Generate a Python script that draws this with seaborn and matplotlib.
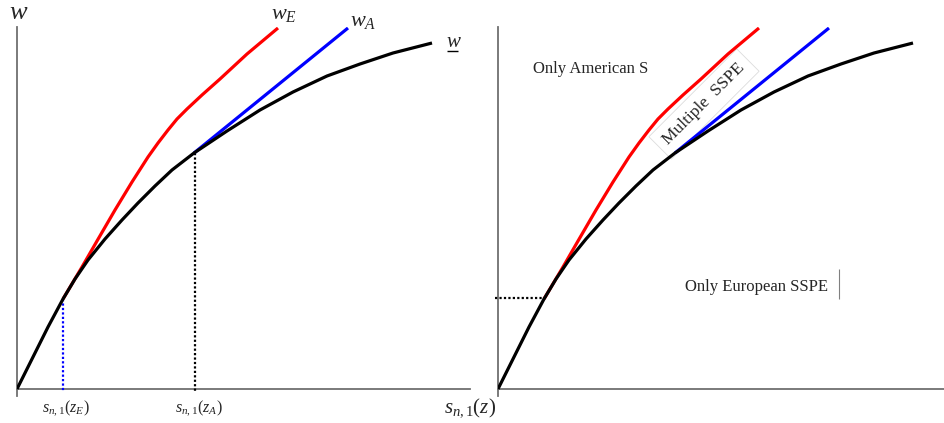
import numpy as np
import matplotlib
matplotlib.use("Agg")
import matplotlib.pyplot as plt
import seaborn as sns
from matplotlib.lines import Line2D

# ---- data (units = distance from the origin) ----
black_x = [0, 11, 21, 31, 46, 58, 71, 88, 105, 121, 138, 155, 177, 210, 243, 276, 310, 343, 376, 415]
black_y = [0, 22, 42, 62, 90, 110, 129, 150, 169, 186, 203, 219, 236, 258, 279, 297, 313, 325, 336, 346]
red_x = [46, 65, 80, 98, 115, 131, 141, 151, 160, 170, 185, 203, 230, 261]
red_y = [90, 122, 148, 179, 207, 232, 246, 259, 270, 280, 294, 310, 335, 361]
blue_x = [177, 331]
blue_y = [236, 361]
z_E = 46     # tangency of w_E
z_A = 177    # tangency of w_A
w_E_level = 90

sns.set_style("white")
plt.rcParams["font.family"] = ["Liberation Serif", "DejaVu Serif"]
plt.rcParams["mathtext.fontset"] = "custom"
plt.rcParams["mathtext.rm"] = "Liberation Serif"
plt.rcParams["mathtext.it"] = "Liberation Serif:italic"
plt.rcParams["mathtext.bf"] = "Liberation Serif:bold"
plt.rcParams["lines.solid_capstyle"] = "butt"
plt.rcParams["lines.solid_joinstyle"] = "round"

W, H = 945, 423
fig = plt.figure(figsize=(W / 100, H / 100), dpi=100)


def fx(px):
    return px / W


def fy(py):
    return 1 - py / H


def make_axes(ox, oy, right, top):
    ax = fig.add_axes([fx(ox), fy(oy + 7), (right - ox) / W, (oy + 7 - top) / H])
    ax.set_xlim(0, right - ox)
    ax.set_ylim(-7, oy - top)
    for s in ["top", "right"]:
        ax.spines[s].set_visible(False)
    ax.spines["bottom"].set_position(("data", 0))
    for s in ["left", "bottom"]:
        ax.spines[s].set_color("#707070")
        ax.spines[s].set_linewidth(1.3)
    ax.set_xticks([])
    ax.set_yticks([])
    ax.set_facecolor("none")
    return ax


lw = 2.3
axL = make_axes(17, 389, 470, 27)
axR = make_axes(498, 389, 945, 27)

for ax in (axL, axR):
    sns.lineplot(x=red_x, y=red_y, ax=ax, color="#ff0000", lw=lw, sort=False,
                 estimator=None, zorder=4)
    sns.lineplot(x=blue_x, y=blue_y, ax=ax, color="#0000ff", lw=lw, sort=False,
                 estimator=None, zorder=4)
    sns.lineplot(x=black_x, y=black_y, ax=ax, color="black", lw=lw, sort=False,
                 estimator=None, zorder=5)

# dotted guides, left panel
axL.plot([z_E, z_E], [w_E_level, -3], color="#0000ff", lw=1.6, ls=(0, (1, 1)),
         clip_on=False, zorder=3)
axL.plot([z_A + 1, z_A + 1], [blue_y[0], -3], color="black", lw=1.6, ls=(0, (1, 1)),
         clip_on=False, zorder=3)
# dotted guide, right panel
axR.plot([-3, z_E + 1], [w_E_level + 1, w_E_level + 1], color="black", lw=1.6,
         ls=(0, (1, 1)), clip_on=False, zorder=3)

# ---- labels left panel ----
fig.text(fx(9), fy(19), "$w$", fontsize=19, va="baseline", ha="left")
fig.text(fx(271), fy(19), "$w_E$", fontsize=16, va="baseline", ha="left")
fig.text(fx(350), fy(26), "$w_A$", fontsize=16, va="baseline", ha="left")
fig.text(fx(446), fy(47), "$w$", fontsize=15, va="baseline", ha="left")
fig.add_artist(Line2D([fx(447), fx(458)], [fy(51), fy(51)], color="black", lw=1.0))

fig.text(fx(66), fy(412), "$s_{n,1}(z_E)$", fontsize=11.5, va="baseline", ha="center")
fig.text(fx(199), fy(412), "$s_{n,1}(z_A)$", fontsize=11.5, va="baseline", ha="center")
fig.text(fx(470), fy(412), "$s_{n,1}(z)$", fontsize=15, va="baseline", ha="center")

# ---- labels right panel ----
fig.text(fx(533), fy(73), "Only American S", fontsize=12, va="baseline", ha="left")
fig.text(fx(685), fy(291), "Only European SSPE", fontsize=12, va="baseline", ha="left")
fig.add_artist(Line2D([fx(839), fx(839)], [fy(269), fy(299)], color="#808080", lw=0.8))
axR.text(fx(704), fy(104), "Multiple  SSPE", fontsize=12.5, va="center", ha="center",
         rotation=45, rotation_mode="anchor", zorder=2, transform=fig.transFigure,
         bbox=dict(boxstyle="square,pad=0.45", fc="white", ec="#dcdcdc", lw=0.6))

fig.savefig("out.png", dpi=100)
